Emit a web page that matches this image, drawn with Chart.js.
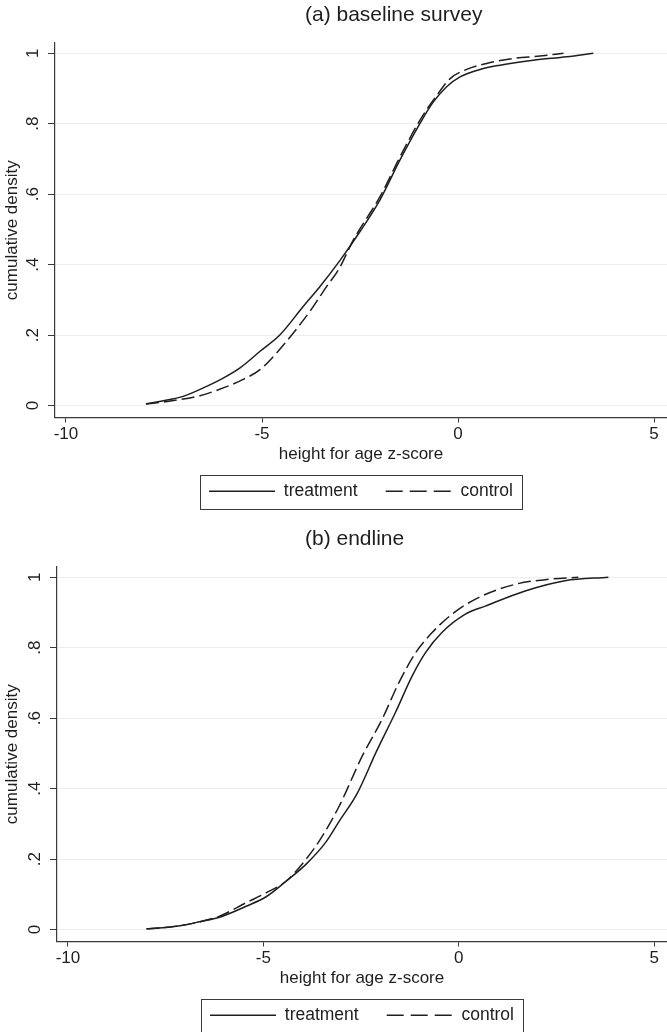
<!DOCTYPE html>
<html><head><meta charset="utf-8">
<script src="https://cdn.jsdelivr.net/npm/chart.js@4.4.1/dist/chart.umd.min.js"></script>
<style>
html,body{margin:0;padding:0;background:#fff;width:667px;height:1032px;overflow:hidden;position:relative;}
.wrap{position:absolute;left:0;width:667px;height:520px;}
#wa{top:0;}
#wb{top:524px;}
canvas{display:block;}
</style></head><body>
<div class="wrap" id="wa"><canvas id="ca" width="667" height="520"></canvas></div>
<div class="wrap" id="wb"><canvas id="cb" width="667" height="520"></canvas></div>
<script>
// ---- data ----
const xTicks = [-10, -5, 0, 5];
const yTicks = [0, 0.2, 0.4, 0.6, 0.8, 1];
const yTickLabels = ['0', '.2', '.4', '.6', '.8', '1'];
const seriesNames = ['treatment', 'control'];
const panelTitles = ['(a) baseline survey', '(b) endline'];
const xAxisTitle = 'height for age z-score';
const yAxisTitle = 'cumulative density';

const baseTreatX = [-7.96, -7.26, -7.01, -6.50, -5.99, -5.56, -5.05, -4.54, -3.95, -3.52, -3.01, -2.50, -1.99, -1.48, -0.97, -0.63, -0.29, 0.05, 0.56, 1.07, 1.92, 2.77, 3.45];
const baseTreatY = [0.005, 0.019, 0.026, 0.050, 0.078, 0.107, 0.154, 0.201, 0.281, 0.338, 0.412, 0.494, 0.584, 0.697, 0.801, 0.862, 0.905, 0.933, 0.954, 0.966, 0.980, 0.990, 1.0];
const baseCtrlX = [-7.96, -7.26, -6.58, -5.99, -5.48, -5.05, -4.63, -4.20, -3.78, -3.52, -3.35, -3.05, -2.67, -1.99, -1.48, -0.97, -0.54, -0.20, 0.22, 0.73, 1.41, 2.09, 2.69];
const baseCtrlY = [0.004, 0.014, 0.028, 0.050, 0.074, 0.102, 0.149, 0.206, 0.267, 0.310, 0.338, 0.385, 0.470, 0.593, 0.706, 0.810, 0.881, 0.928, 0.954, 0.971, 0.985, 0.992, 1.0];

const endTreatX = [-7.99, -7.57, -7.06, -6.63, -6.12, -5.44, -4.93, -4.42, -3.91, -3.40, -3.06, -2.59, -2.12, -1.62, -1.19, -0.85, -0.43, 0.17, 0.68, 1.70, 2.72, 3.83];
const endTreatY = [0.002, 0.005, 0.012, 0.022, 0.035, 0.066, 0.093, 0.137, 0.185, 0.248, 0.307, 0.388, 0.502, 0.616, 0.720, 0.786, 0.843, 0.895, 0.918, 0.961, 0.990, 1.0];
const endCtrlX = [-7.99, -7.57, -7.06, -6.63, -6.12, -5.44, -4.93, -4.42, -3.91, -3.53, -3.06, -2.47, -1.96, -1.53, -1.10, -0.68, -0.17, 0.43, 1.45, 2.30, 3.06];
const endCtrlY = [0.002, 0.005, 0.012, 0.022, 0.038, 0.076, 0.104, 0.137, 0.199, 0.258, 0.350, 0.492, 0.597, 0.701, 0.786, 0.843, 0.895, 0.938, 0.980, 0.994, 1.0];

// ---- styling / layout ----
const FONT = "'Liberation Sans', Arial, Helvetica, sans-serif";
const INK = '#1e1e1e';
const AXIS = '#3a3a3a';
const TITLE_LEFT = 305;
const PLOT_DASH = [13, 5];
const LEGEND_DASH = [17, 7];

const pts = (xs, ys) => xs.map((v, i) => ({x: v, y: ys[i]}));

const titleShift = {
  id: 'titleShift',
  afterLayout(chart) {
    const t = chart.titleBlock;
    if (t) { const w = t.right - t.left; t.left = TITLE_LEFT; t.right = TITLE_LEFT + w; }
  }
};
const legendFrame = {
  id: 'legendFrame',
  afterDraw(chart) {
    const lg = chart.legend;
    if (!lg || !lg.legendHitBoxes || !lg.legendHitBoxes.length) return;
    const hb = lg.legendHitBoxes;
    const l = Math.min(...hb.map(h => h.left)) - 9;
    const r = Math.max(...hb.map(h => h.left + h.width)) + 9;
    const t = hb[0].top - 8, b = hb[0].top + hb[0].height + 8;
    const c = chart.ctx;
    c.save(); c.strokeStyle = AXIS; c.lineWidth = 1; c.setLineDash([]);
    c.strokeRect(Math.round(l) + 0.5, Math.round(t) + 0.5, Math.round(r - l), Math.round(b - t));
    c.restore();
  }
};

function legendLabels(chart) {
  const items = Chart.defaults.plugins.legend.labels.generateLabels(chart);
  items.forEach(it => {
    const ds = chart.data.datasets[it.datasetIndex];
    it.lineDash = (ds.borderDash && ds.borderDash.length) ? LEGEND_DASH : [];
    it.lineWidth = ds.borderWidth;
    it.strokeStyle = ds.borderColor;
    it.pointStyle = 'line';
  });
  return items;
}

function makePanel(id, title, tx, ty, cx, cy, yAxisWidth) {
  return new Chart(document.getElementById(id), {
    type: 'line',
    data: {
      datasets: [
        {label: seriesNames[0], data: pts(tx, ty), borderColor: INK, backgroundColor: INK, borderWidth: 1.5,
         pointRadius: 0, fill: false, cubicInterpolationMode: 'monotone', borderDash: []},
        {label: seriesNames[1], data: pts(cx, cy), borderColor: INK, backgroundColor: INK, borderWidth: 1.5,
         pointRadius: 0, fill: false, cubicInterpolationMode: 'monotone', borderDash: PLOT_DASH}
      ]
    },
    options: {
      responsive: false, animation: false, devicePixelRatio: 1, events: [],
      layout: {padding: {left: 0, right: 0, top: 0, bottom: 10}},
      scales: {
        x: {
          type: 'linear', min: -10.28, max: 5.33,
          afterBuildTicks: s => { s.ticks = xTicks.map(v => ({value: v})); },
          afterFit: s => { s.height = 37; },
          ticks: {color: INK, font: {family: FONT, size: 17}, padding: 2, maxRotation: 0,
                  callback: v => String(v)},
          grid: {drawOnChartArea: false, drawTicks: true, tickLength: 5, tickColor: AXIS, tickWidth: 1},
          border: {display: true, color: AXIS, width: 1.2},
          title: {display: true, text: xAxisTitle, color: INK, font: {family: FONT, size: 17},
                  padding: {top: 0, bottom: -10.2}}
        },
        y: {
          type: 'linear', min: -0.034, max: 1.029,
          afterBuildTicks: s => { s.ticks = yTicks.map(v => ({value: v})); },
          afterFit: s => { s.width = yAxisWidth; },
          ticks: {color: INK, font: {family: FONT, size: 17}, padding: 8, minRotation: 90, maxRotation: 90,
                  crossAlign: 'center', callback: v => yTickLabels[yTicks.indexOf(v)]},
          grid: {color: '#ededed', lineWidth: 1, drawTicks: true, tickLength: 7, tickColor: AXIS, tickWidth: 1},
          border: {display: true, color: AXIS, width: 1.2},
          title: {display: true, text: yAxisTitle, color: INK, font: {family: FONT, size: 17},
                  padding: {top: 2, bottom: 0}}
        }
      },
      plugins: {
        tooltip: {enabled: false},
        title: {display: true, text: title, align: 'start', color: INK,
                font: {family: FONT, size: 21, weight: 'normal'}, padding: {top: 2.4, bottom: 15.4}},
        legend: {
          display: true, position: 'bottom', fullSize: false,
          labels: {color: INK, font: {family: FONT, size: 17.5}, padding: 28,
                   usePointStyle: true, pointStyle: 'line', pointStyleWidth: 66,
                   generateLabels: legendLabels}
        }
      }
    },
    plugins: [titleShift, legendFrame]
  });
}

makePanel('ca', panelTitles[0], baseTreatX, baseTreatY, baseCtrlX, baseCtrlY, 55);
makePanel('cb', panelTitles[1], endTreatX, endTreatY, endCtrlX, endCtrlY, 57);
</script>
</body></html>
